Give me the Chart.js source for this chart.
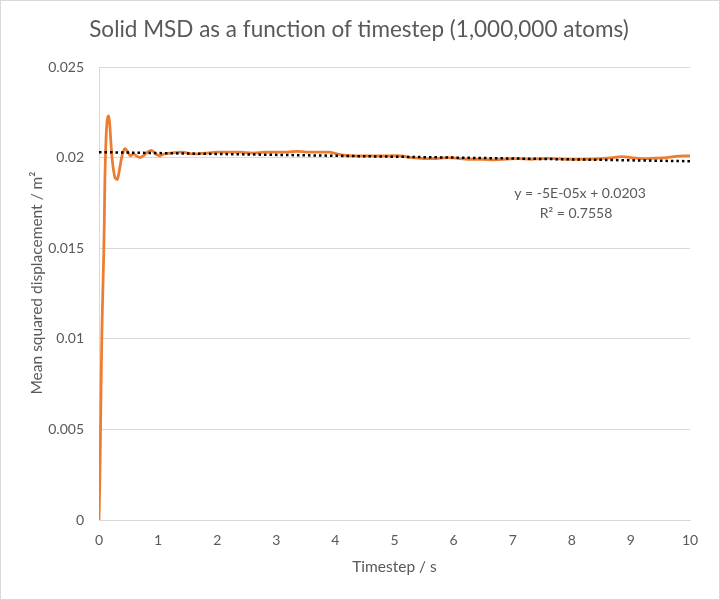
<!DOCTYPE html>
<html>
<head>
<meta charset="utf-8">
<script src="https://cdn.jsdelivr.net/npm/chart.js@4/dist/chart.umd.min.js"></script>
<style>
  html, body { margin: 0; padding: 0; background: #fff; }
  #box { width: 718px; height: 598px; border: 1px solid #d9d9d9; }
</style>
</head>
<body>
<div id="box"><canvas id="msd" width="718" height="598"></canvas></div>
<script>
// timestep (s) and MSD (m^2)
var timeX = [0, 0.01, 0.02, 0.03, 0.04, 0.05, 0.06, 0.07, 0.08, 0.09, 0.1, 0.12, 0.14, 0.16, 0.18, 0.2,
  0.23, 0.27, 0.31, 0.35, 0.39, 0.44, 0.49, 0.53, 0.58, 0.63, 0.69, 0.75, 0.82, 0.89, 0.96, 1.03,
  1.1, 1.2, 1.4, 1.6, 1.8, 2.0, 2.2, 2.4, 2.6, 2.8, 3.0, 3.2, 3.35, 3.5, 3.7, 3.9, 4.1, 4.3, 4.5,
  4.7, 4.9, 5.1, 5.3, 5.5, 5.7, 5.9, 6.1, 6.3, 6.5, 6.7, 6.9, 7.1, 7.3, 7.5, 7.7, 7.9, 8.1, 8.3,
  8.5, 8.7, 8.85, 9.0, 9.2, 9.4, 9.6, 9.8, 10];
var msdY = [0, 0.0015, 0.0035, 0.006, 0.0085, 0.0105, 0.012, 0.0133, 0.0147, 0.0165, 0.0188, 0.0211,
  0.0221, 0.0223, 0.0219, 0.0209, 0.0197, 0.0189, 0.0188, 0.0194, 0.0201, 0.0205, 0.0203, 0.0201,
  0.0202, 0.0201, 0.0200, 0.0201, 0.0203, 0.0204, 0.0202, 0.0201, 0.0202, 0.02025, 0.0203, 0.0202,
  0.02025, 0.0203, 0.0203, 0.0203, 0.02025, 0.0203, 0.0203, 0.0203, 0.02035, 0.0203, 0.0203, 0.0203,
  0.02015, 0.0201, 0.0201, 0.0201, 0.0201, 0.0201, 0.0200, 0.01995, 0.01995, 0.0200, 0.01995, 0.0199,
  0.0199, 0.01988, 0.01992, 0.01995, 0.0199, 0.01995, 0.01995, 0.0199, 0.0199, 0.01992, 0.01995,
  0.0200, 0.02005, 0.0200, 0.01995, 0.01997, 0.0200, 0.02008, 0.0201];

// linear trendline end points (y = -5E-05x + 0.0203)
var trendX = [0, 10];
var trendY = [0.0203, 0.0198];
var trendText = ["y = -5E-05x + 0.0203", "R\u00b2 = 0.7558"];

var xTicks = [0, 1, 2, 3, 4, 5, 6, 7, 8, 9, 10];
var yTicks = [0, 0.005, 0.01, 0.015, 0.02, 0.025];
var yTitle = "Mean squared displacement / m\u00b2";

var grey = "#595959";
var FONT = "Lato, 'Open Sans', sans-serif";

function pts(xs, ys) {
  var out = [];
  for (var i = 0; i < xs.length; i++) out.push({x: xs[i], y: ys[i]});
  return out;
}

// trendline equation + y axis title (Excel puts it a bit above centre)
var extraText = {
  id: "extraText",
  afterDatasetsDraw: function(chart) {
    var c = chart.ctx;
    c.save();
    c.fillStyle = grey;
    c.font = "14px " + FONT;
    c.textAlign = "center";
    c.textBaseline = "middle";
    c.fillText(trendText[0], 579, 192);
    c.fillText(trendText[1], 575, 212);
    c.translate(36, 282);
    c.rotate(-Math.PI / 2);
    c.font = "15.5px " + FONT;
    c.fillText(yTitle, 0, 0);
    c.restore();
  }
};

new Chart(document.getElementById("msd"), {
  type: "scatter",
  data: {
    datasets: [
      {
        label: "MSD",
        data: pts(timeX, msdY),
        showLine: true,
        borderColor: "#ED7D31",
        borderWidth: 2.75,
        pointRadius: 0,
        tension: 0.3,
        order: 2
      },
      {
        label: "Trend",
        data: pts(trendX, trendY),
        showLine: true,
        borderColor: "#000000",
        borderWidth: 2.5,
        borderDash: [2.5, 3],
        pointRadius: 0,
        order: 1
      }
    ]
  },
  options: {
    responsive: false,
    animation: false,
    layout: { padding: { left: 27, right: 29, top: 0, bottom: 0 } },
    plugins: {
      legend: { display: false },
      tooltip: { enabled: false },
      title: {
        display: true,
        text: "Solid MSD as a function of timestep (1,000,000 atoms)",
        color: grey,
        font: { family: FONT, size: 22.5, weight: "normal" },
        padding: { top: 15, bottom: 24 }
      }
    },
    scales: {
      x: {
        type: "linear",
        min: 0, max: 10,
        afterBuildTicks: function(s) { s.ticks = xTicks.map(function(v) { return {value: v}; }); },
        grid: { display: false, drawTicks: false },
        border: { display: true, color: "#d9d9d9", width: 1 },
        ticks: { color: grey, padding: 12, font: { family: FONT, size: 14 } },
        title: {
          display: true, text: "Timestep / s", color: grey,
          font: { family: FONT, size: 15.5 }, padding: { top: 0, bottom: 23 }
        },
        afterFit: function(s) { s.height = 79; }
      },
      y: {
        min: 0, max: 0.025,
        afterBuildTicks: function(s) { s.ticks = yTicks.map(function(v) { return {value: v}; }); },
        grid: { color: "#d9d9d9", drawTicks: false },
        border: { display: true, color: "#d9d9d9", width: 1 },
        ticks: {
          color: grey, padding: 15, font: { family: FONT, size: 14 },
          callback: function(v) { return String(+v.toFixed(3)); }
        },
        title: { display: false },
        afterFit: function(s) { s.width = 71; }
      }
    }
  },
  plugins: [extraText]
});
</script>
</body>
</html>
